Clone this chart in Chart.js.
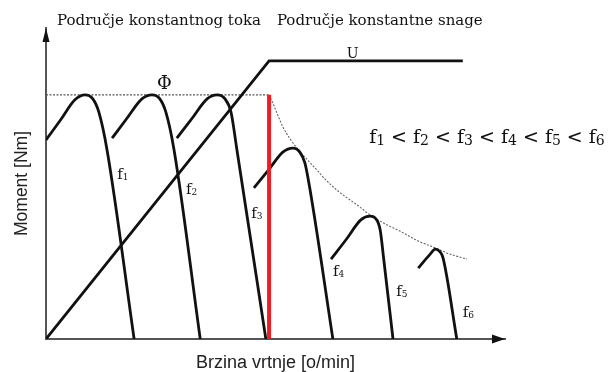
<!DOCTYPE html>
<html>
<head>
<meta charset="utf-8">
<script src="https://cdn.jsdelivr.net/npm/chart.js@4"></script>
<style>
  body { margin: 0; background: #fff; }
  #chart { display: block; }
</style>
</head>
<body>
<canvas id="chart" width="609" height="372"></canvas>
<script>
// brzina vrtnje (0-100) i moment (0-100), ocitano sa slike
const f1 = [[0,64.0],[3.2,70.5],[6.3,76.9],[8.5,78.5],[10.2,77.2],[11.5,73.0],[13.3,60.8],[19.2,0]];
const f2 = [[14.4,64.6],[17.6,70.9],[20.9,77.2],[23.1,78.5],[24.8,77.2],[26.1,73.0],[27.9,60.8],[33.6,0]];
const f3 = [[28.5,64.6],[31.8,70.9],[35.1,77.2],[37.3,78.5],[39.0,77.2],[40.3,73.0],[41.6,60.8],[47.9,0]];
const f4 = [[45.3,48.6],[48.5,54.4],[51.6,60.1],[53.8,61.4],[55.3,60.1],[56.4,56.6],[57.5,48.2],[62.5,0]];
const f5 = [[62.1,25.7],[65.4,32.0],[68.6,38.3],[70.6,39.5],[71.9,38.6],[72.8,35.1],[73.6,25.4],[75.6,0]];
const f6 = [[81.1,22.8],[83.7,27.3],[84.8,28.9],[85.8,28.1],[86.5,26.1],[89.5,0]];

const napon = [[0,0],[48.6,89.4],[90.8,89.4]];          // U
const tok = [[0,78.5],[48.6,78.5]];                        // Phi
const snaga = [[48.6,78.5],[49.5,75.6],[50.3,72.7],[51.6,68.2],[53.2,64.3],[54.9,61.0],[56.4,58.5],[58.6,55.0],[60.8,51.4],
               [64.1,47.0],[67.8,43.1],[70.6,39.9],[73.9,37.0],[77.1,34.7],[81.1,31.5],[84.8,29.3],[88.0,27.3],[91.7,25.7]];
const granica = [[48.6,0],[48.6,78.5]];                   // nazivna brzina

const freqIndex = ['1', '2', '3', '4', '5', '6'];
const freqLabelPos = [[15.5,51.4],[30.5,46.6],[44.7,38.9],[62.5,20.2],[76.3,13.8],[90.8,7.1]];

const toXY = arr => arr.map(p => ({x: p[0], y: p[1]}));

function curve(data, opts) {
    return Object.assign({
        data: toXY(data),
        borderColor: '#111',
        borderWidth: 2.8,
        pointRadius: 0,
        fill: false,
        cubicInterpolationMode: 'monotone'
    }, opts);
}

function drawIndexed(ctx, base, sub, px, py, size, subSize, drop) {
    ctx.font = size + 'px "DejaVu Serif"';
    ctx.fillText(base, px, py);
    const w = ctx.measureText(base).width;
    ctx.font = subSize + 'px "DejaVu Serif"';
    ctx.fillText(sub, px + w, py + drop);
    return w + ctx.measureText(sub).width;
}

const annotations = {
    id: 'annotations',
    afterDraw(chart) {
        const {ctx, chartArea: a, scales: {x, y}} = chart;
        ctx.save();
        // strelice na osima
        ctx.fillStyle = '#111';
        ctx.beginPath();
        ctx.moveTo(a.right, a.bottom);
        ctx.lineTo(a.right - 13, a.bottom - 4.5);
        ctx.lineTo(a.right - 13, a.bottom + 4.5);
        ctx.closePath();
        ctx.fill();
        ctx.beginPath();
        ctx.moveTo(a.left, a.top);
        ctx.lineTo(a.left - 3.5, a.top + 14);
        ctx.lineTo(a.left + 3.5, a.top + 14);
        ctx.closePath();
        ctx.fill();

        ctx.fillStyle = '#111';
        ctx.textBaseline = 'alphabetic';
        ctx.textAlign = 'left';
        ctx.font = '15px "DejaVu Serif"';
        ctx.fillText('Područje konstantnog toka', x.getPixelForValue(2.4), y.getPixelForValue(101.0));
        ctx.fillText('Područje konstantne snage', x.getPixelForValue(50.3), y.getPixelForValue(101.0));

        ctx.textAlign = 'center';
        ctx.font = '18px "DejaVu Serif"';
        ctx.fillText('Φ', x.getPixelForValue(25.8), y.getPixelForValue(80.4));
        ctx.font = '14px "DejaVu Serif"';
        ctx.fillText('U', x.getPixelForValue(66.8), y.getPixelForValue(90.4));

        ctx.textAlign = 'left';
        freqIndex.forEach((n, i) => {
            const p = freqLabelPos[i];
            drawIndexed(ctx, 'f', n, x.getPixelForValue(p[0]), y.getPixelForValue(p[1]), 15, 9, 1);
        });

        // f1 < f2 < ... < f6
        let px = x.getPixelForValue(70.4);
        const py = y.getPixelForValue(63.0);
        freqIndex.forEach((n, i) => {
            px += drawIndexed(ctx, 'f', n, px, py, 19, 14, 2);
            if (i < freqIndex.length - 1) {
                ctx.font = '19px "DejaVu Serif"';
                ctx.fillText(' < ', px, py);
                px += ctx.measureText(' < ').width;
            }
        });
        ctx.restore();
    }
};

const ctx = document.getElementById('chart').getContext('2d');

new Chart(ctx, {
    type: 'line',
    data: {
        datasets: [
            curve(granica, {borderColor: '#ee1c24', borderWidth: 4, cubicInterpolationMode: 'default', tension: 0}),
            curve(f1), curve(f2), curve(f3), curve(f4), curve(f5), curve(f6),
            curve(napon, {cubicInterpolationMode: 'default', tension: 0}),
            curve(tok, {borderColor: '#555', borderWidth: 1.3, borderDash: [2, 1.5], cubicInterpolationMode: 'default', tension: 0}),
            curve(snaga, {borderColor: '#666', borderWidth: 1.1, borderDash: [2, 1.5]})
        ]
    },
    options: {
        responsive: false,
        animation: false,
        layout: {padding: {left: 0, right: 104, top: 28, bottom: 0}},
        plugins: {legend: {display: false}, tooltip: {enabled: false}},
        scales: {
            x: {
                type: 'linear', min: 0, max: 100,
                ticks: {display: false},
                grid: {display: false, drawTicks: false},
                border: {display: true, color: '#555', width: 2},
                title: {display: true, text: 'Brzina vrtnje [o/min]', color: '#222',
                        font: {family: '"Liberation Sans", Arial', size: 18, lineHeight: 1},
                        padding: {top: 15, bottom: 0}}
            },
            y: {
                type: 'linear', min: 0, max: 100,
                ticks: {display: false},
                grid: {display: false, drawTicks: false},
                border: {display: true, color: '#555', width: 2},
                title: {display: true, text: 'Moment [Nm]', color: '#222',
                        font: {family: '"Liberation Sans", Arial', size: 17.5, lineHeight: 1},
                        padding: {top: 13, bottom: 15.5}}
            }
        }
    },
    plugins: [annotations]
});
</script>
</body>
</html>
